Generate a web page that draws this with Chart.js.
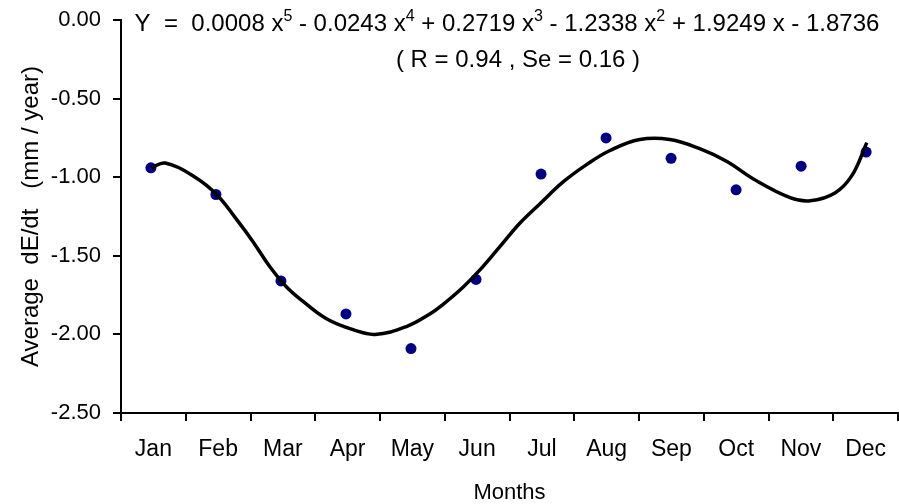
<!DOCTYPE html>
<html>
<head>
<meta charset="utf-8">
<script src="https://cdn.jsdelivr.net/npm/chart.js@4/dist/chart.umd.min.js"></script>
<style>
  html, body { margin: 0; padding: 0; background: #ffffff; }
  canvas { display: block; }
</style>
</head>
<body>
<canvas id="c" width="899" height="504"></canvas>
<script>
// ---- data ----
const months = ['Jan','Feb','Mar','Apr','May','Jun','Jul','Aug','Sep','Oct','Nov','Dec'];
const observed = [-0.94, -1.11, -1.66, -1.87, -2.09, -1.65, -0.98, -0.75, -0.88, -1.08, -0.93, -0.84];
// fitted curve (x = month index, 0 = Jan)
const fitX = [0.01, 0.22, 0.68, 1.01, 1.32, 1.57, 1.83, 2.09, 2.34, 2.70, 3.11, 3.45, 3.93, 4.29, 4.49, 4.80, 5.06,
              5.37, 5.68, 5.98, 6.34, 6.70, 7.06, 7.52, 7.98, 8.45, 8.86, 9.26, 9.83, 10.14, 10.52, 10.78, 11.01];
const fitY = [-0.94, -0.91, -1.00, -1.11, -1.27, -1.41, -1.57, -1.70, -1.79, -1.90, -1.97, -2.00, -1.95, -1.87, -1.81, -1.70, -1.59,
              -1.44, -1.29, -1.17, -1.03, -0.92, -0.83, -0.76, -0.76, -0.82, -0.90, -1.01, -1.13, -1.15, -1.10, -0.99, -0.78];
const yTickValues = [0.00, -0.50, -1.00, -1.50, -2.00, -2.50];
const equationParts = [
  ['Y  =  0.0008 x', false], ['5', true],
  [' - 0.0243 x', false], ['4', true],
  [' + 0.2719 x', false], ['3', true],
  [' - 1.2338 x', false], ['2', true],
  [' + 1.9249 x - 1.8736', false]
];
const statsLine = '( R = 0.94 , Se = 0.16 )';
const xTitle = 'Months';
const yTitle = 'Average  dE/dt   (mm / year)';

const FONT = '"Liberation Sans", Arial, sans-serif';

const equationPlugin = {
  id: 'equation',
  afterDraw(chart) {
    const ctx = chart.ctx;
    ctx.save();
    ctx.fillStyle = '#000';
    ctx.textBaseline = 'alphabetic';
    ctx.textAlign = 'left';
    const mainFont = '24px ' + FONT;
    const supFont = '16px ' + FONT;
    let total = 0;
    for (const [t, sup] of equationParts) {
      ctx.font = sup ? supFont : mainFont;
      total += ctx.measureText(t).width;
    }
    let x = 507 - total / 2;
    const base = 31;
    for (const [t, sup] of equationParts) {
      ctx.font = sup ? supFont : mainFont;
      ctx.fillText(t, x, sup ? base - 10 : base);
      x += ctx.measureText(t).width;
    }
    ctx.font = mainFont;
    ctx.textAlign = 'center';
    ctx.fillText(statsLine, 518, 67);
    ctx.restore();
  }
};

new Chart(document.getElementById('c'), {
  type: 'line',
  data: {
    labels: months,
    datasets: [
      {
        label: 'Fit',
        data: fitX.map((v, i) => ({ x: v, y: fitY[i] })),
        xAxisID: 'x2',
        borderColor: '#000000',
        borderWidth: 3.5,
        pointRadius: 0,
        tension: 0.4,
        fill: false,
        clip: false,
        order: 0
      },
      {
        label: 'Observed',
        data: observed.map((v, i) => ({ x: i, y: v })),
        xAxisID: 'x2',
        showLine: false,
        pointRadius: 5.5,
        pointBackgroundColor: '#000080',
        pointBorderColor: '#000080',
        pointBorderWidth: 0,
        clip: false,
        order: 1
      }
    ]
  },
  options: {
    responsive: false,
    animation: false,
    devicePixelRatio: 1,
    layout: { autoPadding: false, padding: { top: 20, right: 1, left: 0, bottom: 0 } },
    plugins: {
      legend: { display: false },
      tooltip: { enabled: false },
      title: { display: false }
    },
    scales: {
      x: {
        type: 'category',
        offset: true,
        position: 'bottom',
        grid: {
          display: true,
          offset: true,
          drawOnChartArea: false,
          drawTicks: true,
          tickLength: 8,
          color: '#000',
          lineWidth: 2
        },
        border: { display: true, color: '#000', width: 2 },
        ticks: {
          color: '#000',
          font: { family: FONT, size: 23, lineHeight: '58px' },
          padding: 0,
          maxRotation: 0,
          autoSkip: false
        },
        title: {
          display: true,
          text: xTitle,
          color: '#000',
          font: { family: FONT, size: 22 },
          padding: { top: 0, bottom: -2 }
        },
        afterFit(scale) {
          scale.height = 91;
          scale.paddingLeft = 0;
          scale.paddingRight = 0;
        }
      },
      x2: {
        type: 'linear',
        display: false,
        min: -0.46,
        max: 11.49
      },
      y: {
        type: 'linear',
        min: -2.5,
        max: 0,
        afterBuildTicks(scale) { scale.ticks = yTickValues.map(v => ({ value: v })); },
        grid: {
          display: true,
          drawOnChartArea: false,
          drawTicks: true,
          tickLength: 8,
          color: '#000',
          lineWidth: 2
        },
        border: { display: true, color: '#000', width: 2 },
        ticks: {
          color: '#000',
          font: { family: FONT, size: 22 },
          padding: 12,
          callback: (v) => Number(v).toFixed(2)
        },
        title: {
          display: true,
          text: yTitle,
          color: '#000',
          font: { family: FONT, size: 24 },
          padding: { top: 17, bottom: 0 }
        },
        afterFit(scale) {
          scale.width = 121;
          scale.paddingTop = 0;
          scale.paddingBottom = 0;
        }
      }
    }
  },
  plugins: [equationPlugin]
});
</script>
</body>
</html>
